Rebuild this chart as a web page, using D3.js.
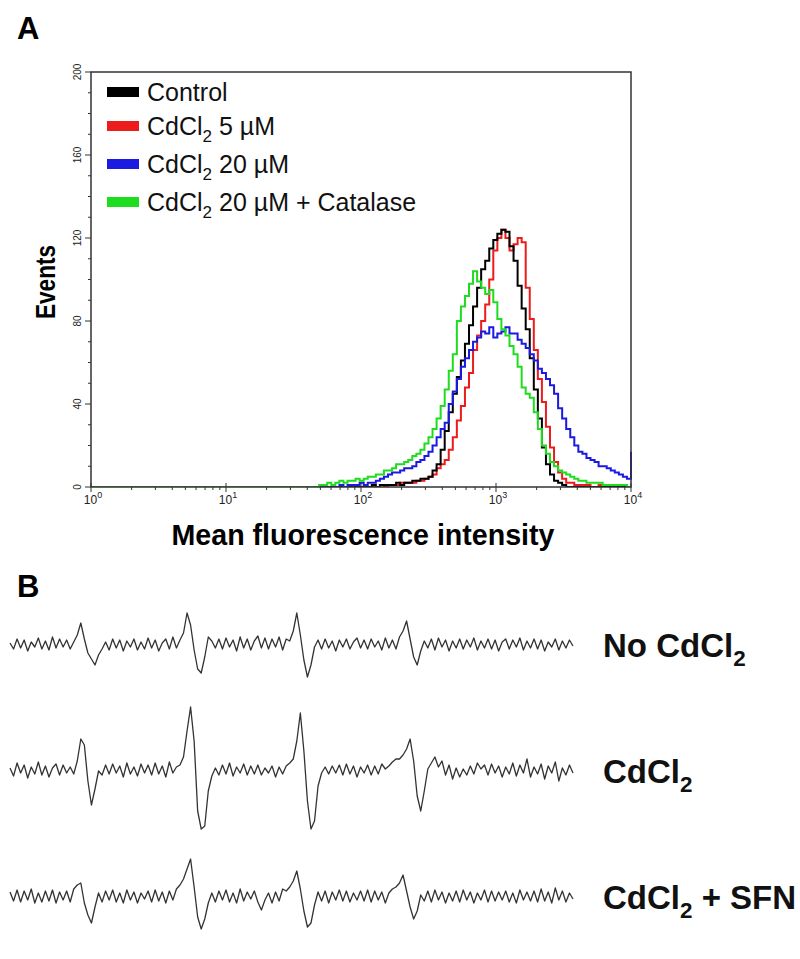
<!DOCTYPE html>
<html>
<head>
<meta charset="utf-8">
<script src="https://cdn.jsdelivr.net/npm/d3@7/dist/d3.min.js"></script>
<style>
  body { margin: 0; background: #fff; }
  svg { display: block; font-family: "Liberation Sans", Arial, sans-serif; }
</style>
</head>
<body>
<div id="fig"></div>
<script>
// ---- Panel A: flow cytometry histograms (log10 of intensity, events) ----
const binLog = [0,
  1.60,1.63,1.66,1.69,1.72,1.75,1.78,1.81,1.84,1.87,
  1.90,1.93,1.96,1.99,2.02,2.05,2.08,2.11,2.14,2.17,
  2.20,2.23,2.26,2.29,2.32,2.35,2.38,2.41,2.44,2.47,
  2.50,2.53,2.56,2.59,2.62,2.65,2.68,2.71,2.74,2.77,
  2.80,2.83,2.86,2.89,2.92,2.95,2.98,3.01,3.04,3.07,
  3.10,3.13,3.16,3.19,3.22,3.25,3.28,3.31,3.34,3.37,
  3.40,3.43,3.46,3.49,3.52,3.55,3.58,3.61,3.64,3.67,
  3.70,3.73,3.76,3.79,3.82,3.85,3.88,3.91,3.94,3.97,
  4.00];

const control = [0,
  0,0,0,0,0,0,0,0,0,0,
  0,0,0,0,0,0,1,0,1,1,
  1,1,2,1,2,2,3,3,4,4,
  5,8,11,18,27,36,45,53,61,69,
  78,87,96,105,109,115,119,122,124,123,
  116,109,97,86,76,62,47,33,19,11,
  6,3,2,1,0,0,0,0,0,0,
  0,0,0,0,0,0,0,0,0,0,
  0];

const cd5 = [0,
  0,0,0,0,0,0,0,0,0,0,
  0,0,0,0,0,0,0,0,1,0,
  1,1,1,2,2,2,2,3,3,4,
  5,6,9,11,13,18,24,32,39,48,
  55,66,73,80,88,100,114,120,124,120,
  114,117,120,118,96,81,66,52,41,29,
  19,12,7,4,2,2,1,1,1,1,
  0,0,1,0,0,0,0,0,0,0,
  0];

const cd20 = [0,
  0,0,0,0,0,0,0,0,1,0,
  1,1,1,2,1,2,2,3,4,5,
  6,7,7,8,9,9,10,12,13,15,
  17,20,24,28,31,40,46,52,58,62,
  66,70,72,75,74,77,72,74,75,77,
  74,74,71,69,67,64,61,57,55,52,
  49,45,38,33,28,24,20,17,16,14,
  13,12,10,10,9,8,7,6,5,4,
  17];

const cd20cat = [0,
  0,0,0,1,1,2,1,2,3,2,
  3,3,4,3,4,5,5,6,6,8,
  8,9,11,11,12,13,15,16,18,21,
  24,28,33,39,47,56,64,80,87,92,
  98,104,99,96,93,95,89,81,76,73,
  68,64,58,48,45,43,36,28,20,16,
  12,10,8,7,6,5,4,3,3,2,
  2,2,2,1,1,1,1,1,1,0,
  0];

const seriesNames = ['Control', 'CdCl_2 5 µM', 'CdCl_2 20 µM', 'CdCl_2 20 µM + Catalase'];
const seriesValues = [control, cd5, cd20, cd20cat];
const seriesColors = ['#000000', '#ec1c1c', '#1a1ae0', '#1edc1e'];
const drawOrder = [1, 0, 2, 3];

const xDecades = [0, 1, 2, 3, 4];
const yMajor = [0, 40, 80, 120, 160, 200];

// ---- Panel B: EPR spectra (relative signal, positive = up) ----
const eprNone = [
  2,-4,6,-3,5,-6,3,-2,7,-4,
  4,-5,8,-3,6,-2,5,-4,3,10,
  22,6,-8,-14,-20,-10,-4,3,-5,6,
  -3,5,-6,4,-2,6,-5,3,-4,7,
  -3,5,-6,2,6,-4,8,-3,5,12,
  32,20,-5,-24,-28,-12,8,4,-3,6,
  -4,7,-2,5,-6,8,-3,6,-5,4,
  9,-3,7,-4,6,-2,8,-5,6,4,
  14,32,10,-15,-32,-20,-2,5,-4,6,
  -3,4,-6,5,-2,6,-4,3,7,-3,
  5,-4,6,-2,4,-5,7,-3,5,-4,
  8,14,24,6,-12,-20,-6,4,-3,6,
  -5,7,-2,5,-6,4,-3,6,-4,5,
  -2,7,-5,4,-3,6,-4,5,-6,3,
  6,-4,5,-2,7,-5,4,-3,6,-4,
  5,-6,3,-2,6,-5,4,-3,5,-1];

const eprCd = [
  3,-5,8,-2,6,-7,4,-3,9,-4,
  5,-6,3,7,-4,6,-2,4,-3,10,
  32,26,-10,-34,-18,0,-4,6,-3,7,
  -2,5,-6,8,-3,4,-5,7,-2,6,
  -4,8,-3,5,-6,9,-2,4,6,14,
  40,64,30,-40,-58,-55,-20,-5,3,-4,
  6,-3,8,-5,4,-2,7,-4,5,-3,
  6,-4,3,-2,5,-6,4,-3,5,8,
  12,30,58,20,-30,-58,-50,-15,-2,4,
  -3,5,-2,6,-4,7,-3,5,-6,4,
  -2,6,-4,5,-3,7,2,5,9,12,
  12,16,22,32,10,-25,-40,-20,2,8,
  14,4,10,-4,6,-8,3,-6,2,-4,
  5,-3,8,2,6,-4,7,-2,5,-6,
  4,-3,8,-5,6,-2,12,-6,4,-3,
  7,-8,5,-2,9,-10,3,-4,6,-2];

const eprCdSfn = [
  5,-4,7,-5,6,-3,8,-6,4,-5,
  6,-4,7,-6,5,-3,6,-5,8,12,
  14,-6,-18,-26,-10,4,-5,6,-3,7,
  -5,4,-6,7,-3,5,-6,4,-2,6,
  -5,7,-4,5,-6,6,-3,8,12,18,
  28,38,10,-20,-32,-22,-6,4,-5,6,
  -3,7,-5,4,-6,8,-4,5,-2,6,
  -5,-13,-3,4,-6,5,-4,8,6,10,
  16,26,8,-14,-30,-26,-8,5,-4,6,
  -6,5,-3,7,-4,6,-5,4,-3,6,
  -4,7,-5,6,-3,5,-6,4,8,10,
  14,22,6,-10,-22,-14,2,-4,6,-5,
  7,-3,5,-6,4,-4,6,-5,7,-3,
  5,-6,4,-3,7,-5,6,-4,5,-3,
  6,-5,4,-6,7,-3,5,-4,6,-5,
  8,-4,5,-6,9,-3,6,-5,4,-2];

const eprLabels = ['No CdCl_2', 'CdCl_2', 'CdCl_2 + SFN'];
const eprTraces = [eprNone, eprCd, eprCdSfn];

// ---------------------------------------------------------------
const W = 800, H = 959;
const svg = d3.select('#fig').append('svg').attr('width', W).attr('height', H);

// texto con subíndices: "CdCl_2" -> CdCl + sub 2
function richText(sel, str, size) {
  const parts = str.split(/_(\d)/);
  parts.forEach(function(p, i) {
    if (p === '') return;
    if (i % 2 === 1) {
      sel.append('tspan').attr('font-size', size * 0.68).attr('dy', size * 0.28).text(p);
    } else {
      sel.append('tspan').attr('dy', i > 0 ? -size * 0.28 : 0).text(p);
    }
  });
}

// ---- Panel A ----
svg.append('text').attr('x', 17).attr('y', 39)
  .attr('font-size', 31).attr('font-weight', 'bold').text('A');

const plot = { left: 91, right: 631, top: 72, bottom: 487 };

const x = d3.scaleLog().domain([1, 10000]).range([plot.left, plot.right]);
const y = d3.scaleLinear().domain([0, 200]).range([plot.bottom, plot.top]);

svg.append('defs').append('clipPath').attr('id', 'clipA')
  .append('rect')
  .attr('x', plot.left).attr('y', plot.top - 2)
  .attr('width', plot.right - plot.left + 1).attr('height', plot.bottom - plot.top + 2);

const gLines = svg.append('g').attr('clip-path', 'url(#clipA)');
const line = d3.line()
  .x(function(d) { return x(Math.pow(10, d[0])); })
  .y(function(d) { return y(d[1]); })
  .curve(d3.curveStepAfter);

drawOrder.forEach(function(k) {
  const pts = binLog.map(function(v, i) { return [v, seriesValues[k][i]]; });
  gLines.append('path')
    .attr('d', line(pts))
    .attr('fill', 'none')
    .attr('stroke', seriesColors[k])
    .attr('stroke-width', 2)
    .attr('stroke-linejoin', 'miter');
});

// marco
svg.append('rect')
  .attr('x', plot.left).attr('y', plot.top)
  .attr('width', plot.right - plot.left).attr('height', plot.bottom - plot.top)
  .attr('fill', 'none').attr('stroke', '#333').attr('stroke-width', 1.5);

// eje Y
const yMinor = d3.range(0, 201, 10);
svg.append('g').selectAll('line').data(yMinor).enter().append('line')
  .attr('x1', function(d) { return yMajor.indexOf(d) >= 0 ? plot.left - 6 : plot.left - 3; })
  .attr('x2', plot.left)
  .attr('y1', function(d) { return y(d); }).attr('y2', function(d) { return y(d); })
  .attr('stroke', '#333').attr('stroke-width', 1);

svg.append('g').selectAll('text').data(yMajor).enter().append('text')
  .attr('transform', function(d) { return 'translate(' + (plot.left - 10) + ',' + y(d) + ') rotate(-90)'; })
  .attr('text-anchor', 'middle')
  .attr('font-size', 10).attr('fill', '#222')
  .text(function(d) { return d; });

// eje X (log)
const xMinor = x.ticks();
svg.append('g').selectAll('line').data(xMinor).enter().append('line')
  .attr('x1', function(d) { return x(d); }).attr('x2', function(d) { return x(d); })
  .attr('y1', function(d) { return Math.log10(d) % 1 === 0 ? plot.bottom - 4 : plot.bottom; })
  .attr('y2', function(d) { return Math.log10(d) % 1 === 0 ? plot.bottom + 5 : plot.bottom + 3; })
  .attr('stroke', '#333').attr('stroke-width', 1);

const xLab = svg.append('g').selectAll('text').data(xDecades).enter().append('text')
  .attr('x', function(d) { return x(Math.pow(10, d)) + 2; })
  .attr('y', plot.bottom + 17)
  .attr('text-anchor', 'middle')
  .attr('font-size', 12).attr('fill', '#222');
xLab.append('tspan').text('10');
xLab.append('tspan').attr('font-size', 9).attr('dy', -6).text(function(d) { return d; });

// títulos de ejes
svg.append('text')
  .attr('x', 363).attr('y', 545)
  .attr('text-anchor', 'middle')
  .attr('font-size', 29).attr('font-weight', 'bold')
  .attr('textLength', 383).attr('lengthAdjust', 'spacingAndGlyphs')
  .text('Mean fluorescence intensity');

svg.append('text')
  .attr('transform', 'translate(55,282) rotate(-90)')
  .attr('text-anchor', 'middle')
  .attr('font-size', 28).attr('font-weight', 'bold')
  .attr('textLength', 74).attr('lengthAdjust', 'spacingAndGlyphs')
  .text('Events');

// leyenda
const legendY = [92, 126, 164, 202];
const leg = svg.append('g').selectAll('g').data(seriesNames).enter().append('g')
  .attr('transform', function(d, i) { return 'translate(107,' + legendY[i] + ')'; });
leg.append('rect')
  .attr('x', 0).attr('y', -5).attr('width', 32).attr('height', 10)
  .attr('fill', function(d, i) { return seriesColors[i]; });
leg.each(function(d) {
  const t = d3.select(this).append('text')
    .attr('x', 40).attr('y', 9)
    .attr('font-size', 25).attr('fill', '#111');
  richText(t, d, 25);
});

// ---- Panel B ----
svg.append('text').attr('x', 17).attr('y', 597)
  .attr('font-size', 31).attr('font-weight', 'bold').text('B');

const traceCenters = [645, 771, 897];
const xe = d3.scaleLinear().domain([0, 159]).range([10, 573]);

eprTraces.forEach(function(tr, k) {
  const ye = d3.scaleLinear().domain([-60, 60]).range([traceCenters[k] + 60, traceCenters[k] - 60]);
  const eline = d3.line()
    .x(function(d, i) { return xe(i); })
    .y(function(d) { return ye(d); });
  svg.append('path')
    .attr('d', eline(tr))
    .attr('fill', 'none')
    .attr('stroke', '#333')
    .attr('stroke-width', 1.3)
    .attr('stroke-linejoin', 'round');

  const t = svg.append('text')
    .attr('x', 603).attr('y', traceCenters[k] + 12)
    .attr('font-size', 33).attr('font-weight', 'bold').attr('fill', '#111');
  richText(t, eprLabels[k], 33);
});
</script>
</body>
</html>
